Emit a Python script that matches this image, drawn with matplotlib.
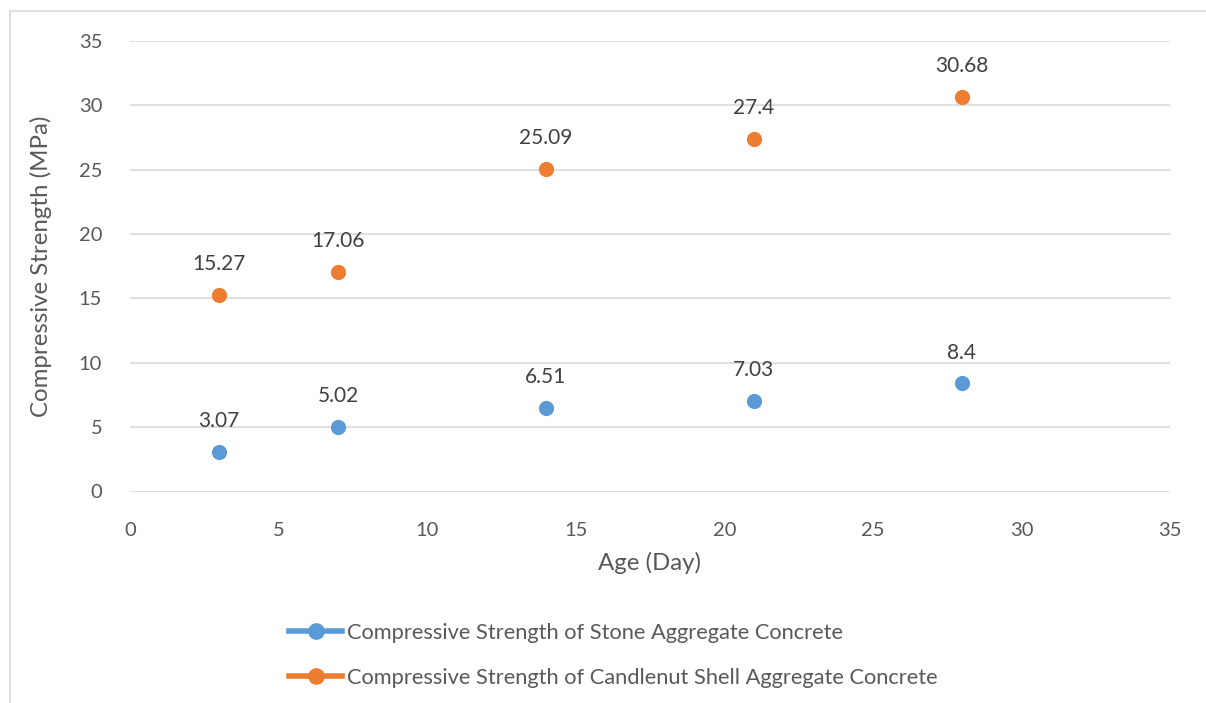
import matplotlib.pyplot as plt
from matplotlib.lines import Line2D
from matplotlib.patches import Rectangle

plt.rcParams['font.family'] = ['Lato', 'DejaVu Sans']

age = [3, 7, 14, 21, 28]
stone = [3.07, 5.02, 6.51, 7.03, 8.4]
candlenut = [15.27, 17.06, 25.09, 27.4, 30.68]
stone_labels = ['3.07', '5.02', '6.51', '7.03', '8.4']
candlenut_labels = ['15.27', '17.06', '25.09', '27.4', '30.68']
ticks = [0, 5, 10, 15, 20, 25, 30, 35]

blue = '#5B9BD5'
orange = '#ED7D31'
grey = '#595959'

fig = plt.figure(figsize=(12.06, 7.03), dpi=100)
ax = fig.add_axes([130/1206, 1 - 491.5/703, 1040/1206, 450.5/703])

# chart border (Excel style)
fig.patches.append(Rectangle((10/1206, -0.01), 1.2, 1 - 11/703 + 0.01,
                             transform=fig.transFigure, fill=False,
                             edgecolor='#D9D9D9', lw=1.2))

ax.scatter(age, stone, s=120, color=blue, zorder=3, linewidths=0)
ax.scatter(age, candlenut, s=120, color=orange, zorder=3, linewidths=0)

for x, y, t in zip(age, stone, stone_labels):
    ax.annotate(t, (x, y), xytext=(0, 22), textcoords='offset points',
                ha='center', va='center', fontsize=15, color='#404040')
for x, y, t in zip(age, candlenut, candlenut_labels):
    ax.annotate(t, (x, y), xytext=(0, 22), textcoords='offset points',
                ha='center', va='center', fontsize=15, color='#404040')

ax.set_xlim(0, 35)
ax.set_ylim(0, 35)
ax.set_xticks(ticks)
ax.set_yticks(ticks)
ax.grid(axis='y', color='#D9D9D9', lw=1.2)
ax.set_axisbelow(True)
for s in ax.spines.values():
    s.set_visible(False)
ax.tick_params(length=0, labelsize=14.5, labelcolor=grey)
ax.tick_params(axis='y', pad=20)
ax.tick_params(axis='x', pad=22)

ax.set_xlabel('Age (Day)', fontsize=17.3, color=grey, labelpad=9)
ax.set_ylabel('Compressive Strength (MPa)', fontsize=17.3, color=grey, labelpad=19)

handles = [
    Line2D([], [], color=blue, lw=4, marker='o', markersize=11),
    Line2D([], [], color=orange, lw=4, marker='o', markersize=11),
]
names = ['Compressive Strength of Stone Aggregate Concrete',
         'Compressive Strength of Candlenut Shell Aggregate Concrete']
fig.legend(handles, names, loc='upper left', bbox_to_anchor=(280/1206, 1 - 614/703),
           frameon=False, fontsize=15.75, labelcolor=grey, handlelength=2.45,
           handletextpad=0.2, labelspacing=1.15, borderaxespad=0)

fig.savefig('out.png', dpi=100)
